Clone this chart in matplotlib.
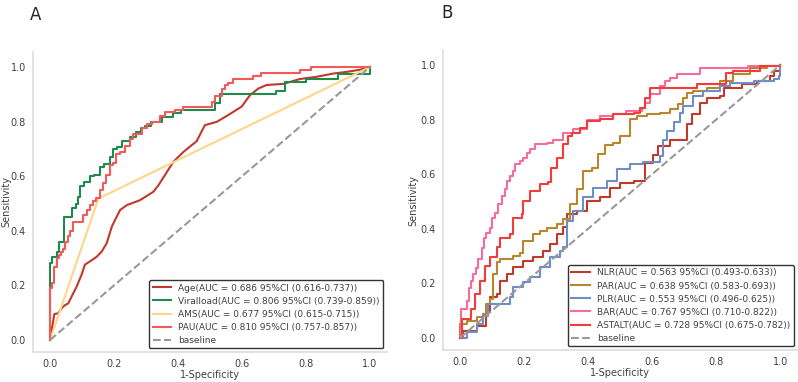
import matplotlib
matplotlib.use("Agg")
import matplotlib.pyplot as plt

# ---- panel A data (fpr, tpr) ----
age_fpr = [0, 0.0135, 0.026, 0.036, 0.047, 0.057, 0.068, 0.083, 0.099, 0.109, 0.125, 0.146,
           0.161, 0.177, 0.193, 0.203, 0.219, 0.24, 0.281, 0.323, 0.339, 0.359, 0.385, 0.417,
           0.458, 0.484, 0.521, 0.557, 0.599, 0.625, 0.651, 0.677, 0.729, 0.781, 0.833, 0.885,
           0.927, 0.969, 1.0]
age_tpr = [0, 0.095, 0.098, 0.116, 0.128, 0.134, 0.16, 0.195, 0.24, 0.276, 0.288, 0.305,
           0.323, 0.354, 0.415, 0.439, 0.476, 0.494, 0.512, 0.543, 0.567, 0.604, 0.652, 0.689,
           0.728, 0.787, 0.799, 0.824, 0.855, 0.897, 0.921, 0.934, 0.938, 0.956, 0.964, 0.976,
           0.982, 0.99, 1.0]

viral_fpr = [0, 0, 0.007, 0.021, 0.028, 0.045, 0.068, 0.08, 0.088, 0.094, 0.107, 0.124, 0.138,
             0.155, 0.17, 0.187, 0.197, 0.208, 0.226, 0.25, 0.27, 0.284, 0.297, 0.316, 0.349,
             0.385, 0.41, 0.516, 0.53, 0.706, 0.734, 0.8, 0.9, 1.0]
viral_tpr = [0, 0.281, 0.303, 0.324, 0.36, 0.452, 0.482, 0.498, 0.525, 0.564, 0.58, 0.6, 0.606,
             0.635, 0.645, 0.672, 0.70, 0.708, 0.73, 0.742, 0.76, 0.775, 0.785, 0.797, 0.818,
             0.83, 0.842, 0.868, 0.90, 0.912, 0.946, 0.955, 0.975, 1.0]

ams_fpr = [0, 0.151, 1.0]
ams_tpr = [0, 0.518, 1.0]

pau_fpr = [0, 0, 0.007, 0.013, 0.021, 0.028, 0.034, 0.041, 0.048, 0.055, 0.063, 0.071, 0.104,
           0.115, 0.125, 0.135, 0.143, 0.155, 0.166, 0.176, 0.187, 0.197, 0.207, 0.218, 0.234,
           0.25, 0.26, 0.286, 0.302, 0.318, 0.344, 0.36, 0.39, 0.415, 0.505, 0.515, 0.536,
           0.547, 0.557, 0.573, 0.635, 0.659, 0.781, 0.816, 1.0]
pau_tpr = [0, 0.19, 0.21, 0.268, 0.30, 0.31, 0.324, 0.335, 0.36, 0.38, 0.40, 0.432, 0.456,
           0.476, 0.495, 0.51, 0.52, 0.55, 0.575, 0.605, 0.64, 0.65, 0.68, 0.69, 0.71,
           0.735, 0.755, 0.775, 0.79, 0.80, 0.82, 0.835, 0.842, 0.855, 0.873, 0.894, 0.92,
           0.933, 0.943, 0.955, 0.967, 0.979, 0.99, 1.0, 1.0]

# ---- panel B data ----
nlr_fpr = [0, 0.01, 0.052, 0.083, 0.094, 0.115, 0.125, 0.146, 0.167, 0.198, 0.229, 0.26, 0.281,
           0.302, 0.323, 0.333, 0.365, 0.396, 0.4375, 0.469, 0.5, 0.542, 0.578, 0.604, 0.62,
           0.656, 0.708, 0.724, 0.75, 0.771, 0.813, 0.823, 0.88, 0.927, 0.969, 0.98, 1.0]
nlr_tpr = [0, 0.027, 0.045, 0.10, 0.149, 0.161, 0.21, 0.234, 0.259, 0.283, 0.295, 0.32, 0.344,
           0.38, 0.405, 0.454, 0.466, 0.502, 0.515, 0.551, 0.569, 0.575, 0.642, 0.672, 0.703,
           0.727, 0.783, 0.819, 0.862, 0.88, 0.886, 0.917, 0.93, 0.942, 0.96, 0.978, 1.0]

par_fpr = [0, 0, 0.021, 0.052, 0.073, 0.083, 0.094, 0.104, 0.115, 0.125, 0.167, 0.1875, 0.198,
           0.229, 0.25, 0.271, 0.302, 0.323, 0.344, 0.365, 0.385, 0.411, 0.432, 0.453, 0.479,
           0.5, 0.531, 0.552, 0.583, 0.625, 0.656, 0.682, 0.698, 0.708, 0.729, 0.771, 0.8125,
           0.854, 0.906, 0.958, 1.0]
par_tpr = [0, 0.05, 0.063, 0.076, 0.088, 0.124, 0.143, 0.234, 0.277, 0.289, 0.301, 0.313, 0.356,
           0.38, 0.393, 0.402, 0.417, 0.435, 0.49, 0.545, 0.612, 0.624, 0.673, 0.707, 0.716,
           0.74, 0.801, 0.813, 0.82, 0.826, 0.838, 0.856, 0.88, 0.899, 0.905, 0.917, 0.941,
           0.966, 0.99, 0.996, 1.0]

plr_fpr = [0, 0.021, 0.052, 0.073, 0.089, 0.156, 0.167, 0.198, 0.219, 0.25, 0.281, 0.3125,
           0.323, 0.333, 0.354, 0.385, 0.417, 0.458, 0.49, 0.531, 0.573, 0.625, 0.635, 0.646,
           0.667, 0.688, 0.698, 0.729, 0.76, 0.813, 0.844, 0.917, 0.98, 0.995, 1.0]
plr_tpr = [0, 0.021, 0.051, 0.082, 0.124, 0.149, 0.185, 0.204, 0.222, 0.259, 0.295, 0.32,
           0.332, 0.429, 0.466, 0.515, 0.551, 0.576, 0.618, 0.637, 0.645, 0.667, 0.727, 0.76,
           0.79, 0.826, 0.85, 0.886, 0.905, 0.923, 0.935, 0.94, 0.948, 0.96, 1.0]

bar_fpr = [0, 0.003, 0.021, 0.028, 0.034, 0.042, 0.049, 0.057, 0.068, 0.076, 0.083, 0.094,
           0.10, 0.11, 0.12, 0.13, 0.14, 0.146, 0.156, 0.167, 0.172, 0.188, 0.198, 0.208,
           0.219, 0.234, 0.271, 0.292, 0.323, 0.354, 0.396, 0.4375, 0.479, 0.52, 0.568, 0.578,
           0.594, 0.625, 0.641, 0.656, 0.677, 0.75, 0.9, 1.0]
bar_tpr = [0, 0.105, 0.135, 0.184, 0.208, 0.233, 0.257, 0.288, 0.331, 0.368, 0.386, 0.404,
           0.44, 0.459, 0.49, 0.52, 0.545, 0.575, 0.594, 0.612, 0.636, 0.649, 0.661, 0.679,
           0.692, 0.71, 0.716, 0.724, 0.752, 0.765, 0.80, 0.815, 0.82, 0.83, 0.844, 0.862,
           0.893, 0.923, 0.941, 0.954, 0.966, 0.99, 0.996, 1.0]

astalt_fpr = [0, 0.007, 0.034, 0.047, 0.0625, 0.078, 0.094, 0.115, 0.125, 0.156, 0.167, 0.193,
              0.198, 0.219, 0.25, 0.276, 0.286, 0.302, 0.323, 0.339, 0.349, 0.375, 0.396,
              0.4375, 0.479, 0.542, 0.5625, 0.578, 0.594, 0.74, 0.83, 0.854, 0.9375, 1.0]
astalt_tpr = [0, 0.07, 0.106, 0.161, 0.21, 0.265, 0.295, 0.332, 0.368, 0.38, 0.441, 0.454,
              0.502, 0.539, 0.563, 0.57, 0.624, 0.661, 0.71, 0.74, 0.752, 0.771, 0.795,
              0.801, 0.82, 0.826, 0.844, 0.88, 0.917, 0.93, 0.97, 0.978, 0.996, 1.0]

labels_a = ["Age(AUC = 0.686 95%CI (0.616-0.737))",
            "Viralload(AUC = 0.806 95%CI (0.739-0.859))",
            "AMS(AUC = 0.677 95%CI (0.615-0.715))",
            "PAU(AUC = 0.810 95%CI (0.757-0.857))"]
labels_b = ["NLR(AUC = 0.563 95%CI (0.493-0.633))",
            "PAR(AUC = 0.638 95%CI (0.583-0.693))",
            "PLR(AUC = 0.553 95%CI (0.496-0.625))",
            "BAR(AUC = 0.767 95%CI (0.710-0.822))",
            "ASTALT(AUC = 0.728 95%CI (0.675-0.782))"]

fig = plt.figure(figsize=(7.98, 3.82), dpi=100)
ax1 = fig.add_axes([0.0414, 0.0785, 0.4436, 0.7855])
ax2 = fig.add_axes([0.555, 0.0838, 0.444, 0.7852])


def style(ax):
    for s in ["top", "right"]:
        ax.spines[s].set_visible(False)
    for s in ["left", "bottom"]:
        ax.spines[s].set_color("0.87")
        ax.spines[s].set_linewidth(1.25)
    ax.tick_params(length=0, labelsize=7, labelcolor="0.25", pad=5)
    ax.set_xticks([0, 0.2, 0.4, 0.6, 0.8, 1.0])
    ax.set_yticks([0, 0.2, 0.4, 0.6, 0.8, 1.0])
    ax.set_xlim(-0.053, 1.053)
    ax.set_ylim(-0.044, 1.055)
    ax.set_xlabel("1-Specificity", fontsize=7, color="0.25", labelpad=1)
    ax.set_ylabel("Sensitivity", fontsize=7, color="0.25")


lw = 1.5
ax1.plot(age_fpr, age_tpr, color="#c0392b", lw=lw, label=labels_a[0])
ax1.plot(viral_fpr, viral_tpr, color="#1e8a4c", lw=lw, drawstyle="steps-post", label=labels_a[1])
ax1.plot(ams_fpr, ams_tpr, color="#fdd68a", lw=lw, label=labels_a[2])
ax1.plot(pau_fpr, pau_tpr, color="#f25a58", lw=lw, drawstyle="steps-post", label=labels_a[3])
ax1.plot([0, 1], [0, 1], color="#999999", lw=1.5, ls="--", label="baseline")

ax2.plot(nlr_fpr, nlr_tpr, color="#c0392b", lw=lw, drawstyle="steps-post", label=labels_b[0])
ax2.plot(par_fpr, par_tpr, color="#b8862b", lw=lw, drawstyle="steps-post", label=labels_b[1])
ax2.plot(plr_fpr, plr_tpr, color="#6f8fc4", lw=lw, drawstyle="steps-post", label=labels_b[2])
ax2.plot(bar_fpr, bar_tpr, color="#f46d9b", lw=lw, drawstyle="steps-post", label=labels_b[3])
ax2.plot(astalt_fpr, astalt_tpr, color="#f23c3c", lw=lw, drawstyle="steps-post", label=labels_b[4])
ax2.plot([0, 1], [0, 1], color="#999999", lw=1.5, ls="--", label="baseline")

for ax in (ax1, ax2):
    style(ax)
    leg = ax.legend(loc="lower right", fontsize=6.5, framealpha=1, borderaxespad=0.4,
                    handlelength=2.0, labelspacing=0.45)
    leg.get_frame().set_edgecolor("0.2")
    leg.get_frame().set_linewidth(1.0)
    for t in leg.get_texts():
        t.set_color("0.25")

ax1.yaxis.set_label_coords(-0.06, 0.5)
ax2.yaxis.set_label_coords(-0.07, 0.5)

fig.text(0.037, 0.985, "A", fontsize=12, va="top", color="0.15")
fig.text(0.553, 0.99, "B", fontsize=12, va="top", color="0.15")

fig.savefig("out.png", dpi=100)
